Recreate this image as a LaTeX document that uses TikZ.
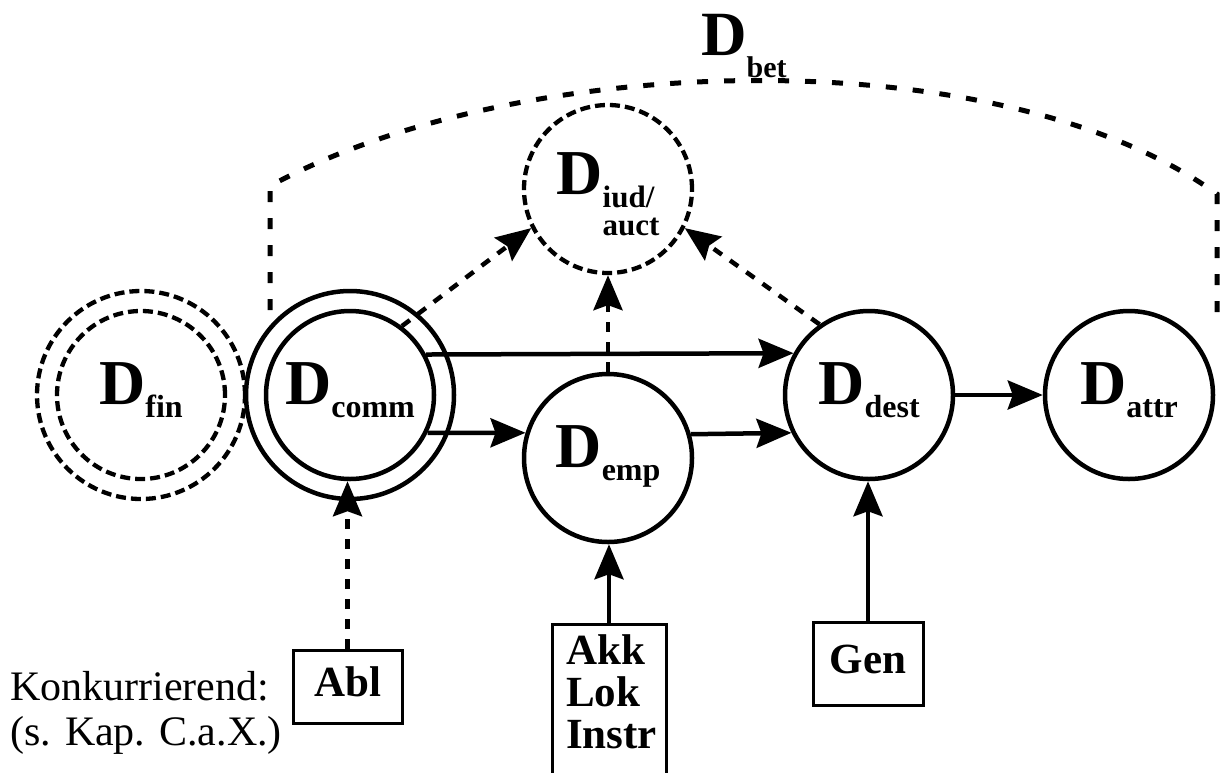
\documentclass[tikz,border=0pt]{standalone}
\usepackage{fontspec}
\setmainfont{Liberation Serif}
\usetikzlibrary{arrows.meta}
\newcommand\Dsub[1]{D\raisebox{-13pt}{\fontsize{32}{32}\selectfont #1}}
\tikzset{
  circ/.style={circle, draw, line width=4.5pt, minimum size=168pt, inner sep=0pt,
    font=\fontsize{64}{64}\selectfont\bfseries, text height=44pt, text depth=26pt},
  dcirc/.style={circ, line width=4.3pt, dash pattern=on 10pt off 5pt},
  ring/.style={circle, draw, line width=4.5pt, minimum size=208pt, inner sep=0pt},
  dring/.style={ring, line width=4.3pt, dash pattern=on 10pt off 5pt},
  arr/.style={line width=4.5pt, -{Stealth[length=35pt,width=29pt,inset=5pt]}},
  darr/.style={arr, dash pattern=on 10pt off 10pt},
  betline/.style={line width=5pt, dash pattern=on 11pt off 16pt},
  casebox/.style={draw, line width=3pt, rectangle, inner sep=0pt,
    font=\fontsize{43}{42}\selectfont\bfseries, text height=29pt, text depth=10pt},
  plainbox/.style={draw, line width=3pt, rectangle, inner sep=0pt},
  boxtext/.style={inner sep=0pt, align=left, font=\fontsize{43}{42}\selectfont\bfseries},
  note/.style={inner sep=0pt, align=left, font=\fontsize{42}{45}\selectfont},
}
\begin{document}
\begin{tikzpicture}[x=1pt,y=-1pt]
\useasboundingbox (0,0) rectangle (1220,772);
\fill[white] (0,0) rectangle (1220,772);

% circles
\node[dcirc] (fin) at (141,395) {\Dsub{fin}};
\node[dring] (finout) at (fin) {};
\node[circ] (comm) at (350,395) {\Dsub{comm}};
\node[ring] (commout) at (comm) {};
\node[dcirc, text depth=33pt] (iud) at (608,189)
  {D\raisebox{-13pt}{\fontsize{31}{28}\selectfont\vtop{\hbox{iud/}\hbox{auct}}}};
\node[circ] (emp) at (608,458) {\Dsub{emp}};
\node[circ] (dest) at (869,395) {\Dsub{dest}};
\node[circ] (attr) at (1129,395) {\Dsub{attr}};

% D_bet bracket
\node[anchor=base west, inner sep=0pt, font=\fontsize{63}{63}\selectfont\bfseries] (bet) at (701,55)
  {D\raisebox{-22pt}{\fontsize{30}{30}\selectfont bet}};
\coordinate (betA) at (270,310);
\coordinate (betB) at (270,186);
\coordinate (betC) at (1217,194);
\coordinate (betD) at (1217,316);
\draw[betline] (betA) -- (betB) .. controls (520,50) and (1000,38) .. (betC) -- (betD);

% boxes
\node[casebox, minimum width=109pt, minimum height=73pt] (abl) at (347.5,686.5) {Abl};
\node[casebox, minimum width=110pt, minimum height=83pt] (gen) at (868,663.5) {Gen};
\node[plainbox, anchor=north, minimum width=114pt, minimum height=200pt] (akk) at (609,623) {};
\node[boxtext, anchor=base west] (akktext) at (566,748) {Akk\\Lok\\Instr};
\node[note, anchor=base west] (konk) at (10,745) {Konkurrierend:\\(s. Kap. C.a.X.)};

% solid arrows
\draw[arr] (comm.28.4) -- (dest.151.6);
\draw[arr] (comm.-26.9) -- (emp.163.8);
\draw[arr] (emp.16.2) -- (dest.206.9);
\draw[arr] (dest.east) -- (attr.west);
\draw[arr] (akk.north) -- (akk.north |- emp.south);
\draw[arr] (gen.north) -- (gen.north |- dest.south);

% dashed arrows
\draw[darr] (comm.53.7) -- (iud.207.5);
\draw[darr] (emp.north) -- (iud.south);
\draw[darr] (dest.125) -- (iud.-27.5);
\draw[darr] (abl.north) -- (abl.north |- comm.south);
\end{tikzpicture}
\end{document}
